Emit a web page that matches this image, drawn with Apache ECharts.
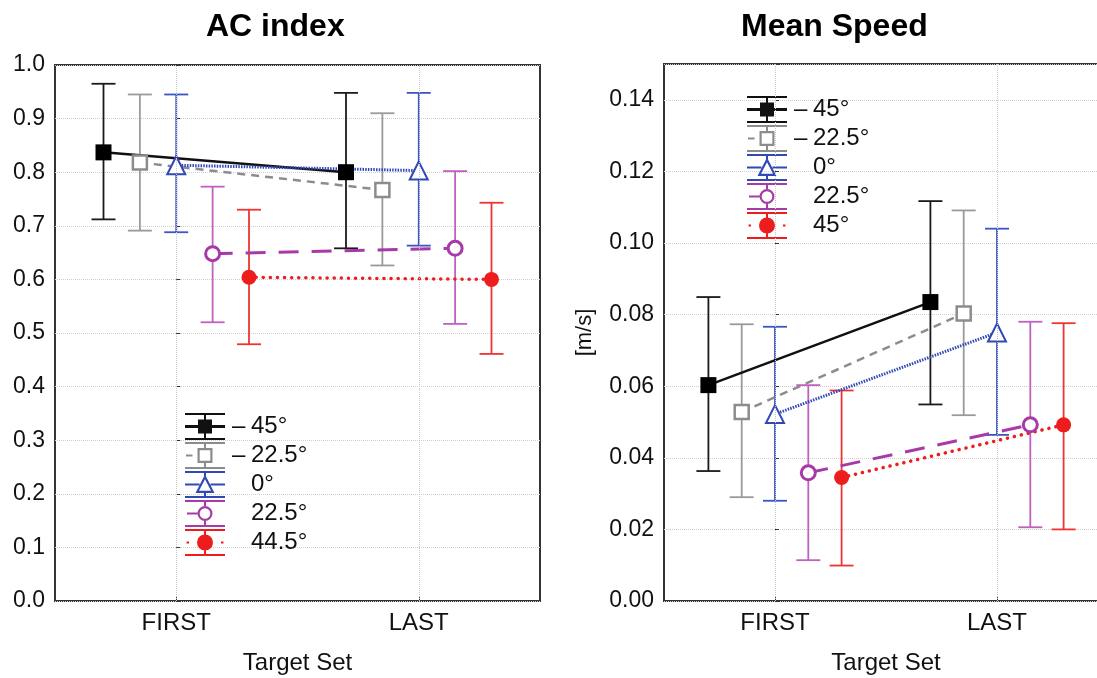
<!DOCTYPE html>
<html>
<head>
<meta charset="utf-8">
<script src="https://cdn.jsdelivr.net/npm/echarts@6/dist/echarts.min.js"></script>
<style>
  html, body { margin: 0; padding: 0; background: #fff; }
  #main { width: 1097px; height: 678px; }
</style>
</head>
<body>
<div id="main"></div>
<script>
// target sets on the x axis
var categories = ['FIRST', 'LAST'];

// legend labels (the AC panel says 44.5°, the speed panel 45°)
var acLabels = ['\u2013 45°', '\u2013 22.5°', '0°', '22.5°', '44.5°'];
var speedLabels = ['\u2013 45°', '\u2013 22.5°', '0°', '22.5°', '45°'];

// AC index, one row per angle, values for [FIRST, LAST]
var acMean = [[0.837, 0.800], [0.818, 0.767], [0.813, 0.803], [0.648, 0.658], [0.604, 0.600]];
var acLow  = [[0.712, 0.658], [0.691, 0.626], [0.688, 0.663], [0.520, 0.517], [0.479, 0.461]];
var acHigh = [[0.965, 0.948], [0.945, 0.910], [0.945, 0.948], [0.773, 0.802], [0.730, 0.743]];

// mean speed [m/s]
var speedMean = [[0.0603, 0.0835], [0.0528, 0.0803], [0.0522, 0.0750], [0.0358, 0.0492], [0.0345, 0.0492]];
var speedLow  = [[0.0363, 0.0549], [0.0290, 0.0519], [0.0280, 0.0464], [0.0114, 0.0206], [0.0099, 0.0200]];
var speedHigh = [[0.0849, 0.1117], [0.0773, 0.1091], [0.0766, 0.1040], [0.0603, 0.0780], [0.0588, 0.0776]];

// y ticks
var acTicks = {min: 0, max: 1, step: 0.1};
var speedTicks = {min: 0, max: 0.15, step: 0.02};

var FONT = '"Liberation Sans", Arial, sans-serif';
// horizontal shift of each angle inside a target set (in category units)
var shift = [-0.3, -0.15, 0, 0.15, 0.3];

var styles = [
    {color: '#111', err: '#1a1a1a', symbol: 'rect', size: 16, fill: '#000', bw: 0,
        line: {width: 2.5, type: 'solid'}},
    {color: '#8c8c8c', err: '#9a9a9a', symbol: 'rect', size: 14, fill: '#fff', bw: 2.5,
        line: {width: 2.5, type: [8, 6]}},
    {color: '#3048b8', err: '#3a55c4', symbol: 'triangle', size: 18, fill: '#fff', bw: 2,
        line: {width: 3, type: [1.5, 1.2]}},
    {color: '#a83aa8', err: '#c060c0', symbol: 'circle', size: 14, fill: '#fff', bw: 3,
        line: {width: 3, type: [20, 13]}},
    {color: '#ee1d1d', err: '#f03434', symbol: 'circle', size: 15, fill: '#ee1d1d', bw: 0,
        line: {width: 3.5, type: [0.1, 7], cap: 'round'}}
];

// legend icons: caps + stem + line piece + marker, drawn in a 40x27 box
var CAPS = 'M0 0H40V2H0Z M0 25H40V27H0Z ';
var legendIcons = [
    CAPS + 'M0 12H40V15H0Z M19 0H21V27H19Z M13 6.5H27V20.5H13Z',
    CAPS + 'M1 12.5H7.5V14.5H1Z M19 2H21V6H19Z M19 21H21V25H19Z M12.5 6H27.5V21H12.5Z M14.7 8.2V18.8H25.3V8.2Z',
    CAPS + 'M0 12.5H14.5V14.5H0Z M25.5 12.5H40V14.5H25.5Z M19 2H21V5H19Z M19 22H21V25H19Z M20 3.5L29.5 22H10.5Z M20 8.2L14 19.8H26Z',
    CAPS + 'M2 12.5H12.5V14.5H2Z M19 2H21V6H19Z M19 21H21V25H19Z M27.5 13.5A7.5 7.5 0 1 1 12.5 13.5A7.5 7.5 0 1 1 27.5 13.5Z M25.3 13.5A5.3 5.3 0 1 0 14.7 13.5A5.3 5.3 0 1 0 25.3 13.5Z',
    CAPS + 'M1.5 12.5H4V14.5H1.5Z M36 12.5H38.5V14.5H36Z M19 0H21V27H19Z M28 13.5A8 8 0 1 1 12 13.5A8 8 0 1 1 28 13.5Z'
];

function errorBars(name, color, p, data) {
    return {
        type: 'custom', name: name, xAxisIndex: p, yAxisIndex: p, z: 1, silent: true,
        encode: {x: 0, y: [1, 2]},
        renderItem: function (params, api) {
            var top = api.coord([api.value(0), api.value(2)]);
            var bot = api.coord([api.value(0), api.value(1)]);
            var w = 12;
            var st = {stroke: color, lineWidth: 1.8, fill: null};
            return {
                type: 'group',
                children: [
                    {type: 'line', shape: {x1: top[0], y1: top[1], x2: bot[0], y2: bot[1]}, style: st},
                    {type: 'line', shape: {x1: top[0] - w, y1: top[1], x2: top[0] + w, y2: top[1]}, style: st},
                    {type: 'line', shape: {x1: bot[0] - w, y1: bot[1], x2: bot[0] + w, y2: bot[1]}, style: st}
                ]
            };
        },
        data: data
    };
}

function panelSeries(p, key, mean, low, high) {
    var out = [];
    for (var i = 0; i < mean.length; i++) {
        var s = styles[i];
        var pts = [], bars = [];
        for (var k = 0; k < categories.length; k++) {
            pts.push([k + shift[i], mean[i][k]]);
            bars.push([k + shift[i], low[i][k], high[i][k]]);
        }
        var line = {
            type: 'line', name: key + i, xAxisIndex: p, yAxisIndex: p, z: 3,
            data: pts,
            symbol: s.symbol, symbolSize: s.size,
            itemStyle: {color: s.fill, borderColor: s.color, borderWidth: s.bw},
            lineStyle: {color: s.color, width: s.line.width, type: s.line.type, cap: s.line.cap || 'butt'},
            emphasis: {disabled: true}
        };
        if (i === 0) {
            // dotted vertical grid at each target set
            line.markLine = {
                silent: true, symbol: 'none', label: {show: false},
                lineStyle: {color: '#c8c8c8', type: 'dotted', width: 1},
                data: categories.map(function (c, k) { return {xAxis: k}; })
            };
        }
        out.push(line);
        out.push(errorBars(key + 'err' + i, s.err, p, bars));
    }
    return out;
}

function legendFor(key, labels, left, top) {
    return {
        orient: 'vertical', left: left, top: top, padding: 0,
        itemWidth: 40, itemHeight: 27, itemGap: 2, selectedMode: false,
        itemStyle: {borderWidth: 0},
        data: labels.map(function (l, i) {
            return {name: key + i, icon: 'path://' + legendIcons[i], itemStyle: {color: styles[i].color, borderWidth: 0}};
        }),
        formatter: function (name) {
            var lab = labels[+name.slice(key.length)];
            if (lab.charAt(0) === '\u2013') return '{m|\u2013}{v|' + lab.slice(2) + '}';
            return '{m| }{v|' + lab + '}';
        },
        textStyle: {
            color: '#111', fontFamily: FONT, fontSize: 24, padding: [0, 0, 0, 2],
            rich: {m: {width: 19, fontSize: 24, fontFamily: FONT, color: '#111'},
                   v: {fontSize: 24, fontFamily: FONT, color: '#111'}}
        }
    };
}

function xAxisFor(p) {
    return {
        type: 'value', gridIndex: p, min: -0.5, max: 1.5,
        axisLine: {show: false},
        axisTick: {show: true, inside: true, length: 5, customValues: [0, 1], lineStyle: {color: '#333'}},
        splitLine: {show: false},
        axisLabel: {
            customValues: [0, 1], margin: 10, color: '#111', fontFamily: FONT, fontSize: 24,
            formatter: function (v) { return categories[Math.round(v)] && Math.abs(v - Math.round(v)) < 1e-6 ? categories[Math.round(v)] : ''; }
        },
        name: 'Target Set', nameLocation: 'middle', nameGap: 50,
        nameTextStyle: {color: '#111', fontFamily: FONT, fontSize: 24}
    };
}

function yAxisFor(p, t, digits, name) {
    return {
        type: 'value', gridIndex: p, min: t.min, max: t.max, interval: t.step,
        axisLine: {show: false},
        axisTick: {show: true, inside: true, length: 4, lineStyle: {color: '#333'}},
        splitLine: {show: true, lineStyle: {color: '#cfcfcf', type: 'dotted', width: 1}},
        axisLabel: {
            margin: 10, color: '#111', fontFamily: FONT, fontSize: 23,
            formatter: function (v) { return v > t.max - t.step / 2 + 1e-9 && digits === 2 ? '' : v.toFixed(digits); }
        },
        name: name || '', nameLocation: 'middle', nameGap: 68,
        nameTextStyle: {color: '#111', fontFamily: FONT, fontSize: 22}
    };
}

var chart = echarts.init(document.getElementById('main'), null, {renderer: 'canvas'});
chart.setOption({
    animation: false,
    backgroundColor: '#fff',
    title: [
        {text: 'AC index', left: 206, top: 11, padding: 0,
            textStyle: {fontFamily: FONT, fontSize: 32, fontWeight: 'bold', color: '#000'}},
        {text: 'Mean Speed', left: 741, top: 11, padding: 0,
            textStyle: {fontFamily: FONT, fontSize: 32, fontWeight: 'bold', color: '#000'}}
    ],
    grid: [
        {left: 55, top: 65, width: 485, height: 536, show: true, borderColor: '#333', borderWidth: 2,
            backgroundColor: 'transparent', containLabel: false, outerBoundsMode: 'none'},
        {left: 664, top: 64, width: 444, height: 537, show: true, borderColor: '#333', borderWidth: 2,
            backgroundColor: 'transparent', containLabel: false, outerBoundsMode: 'none'}
    ],
    xAxis: [xAxisFor(0), xAxisFor(1)],
    yAxis: [yAxisFor(0, acTicks, 1), yAxisFor(1, speedTicks, 2, '[m/s]')],
    legend: [legendFor('ac', acLabels, 185, 413), legendFor('sp', speedLabels, 747, 96)],
    series: panelSeries(0, 'ac', acMean, acLow, acHigh)
        .concat(panelSeries(1, 'sp', speedMean, speedLow, speedHigh))
});
</script>
</body>
</html>
